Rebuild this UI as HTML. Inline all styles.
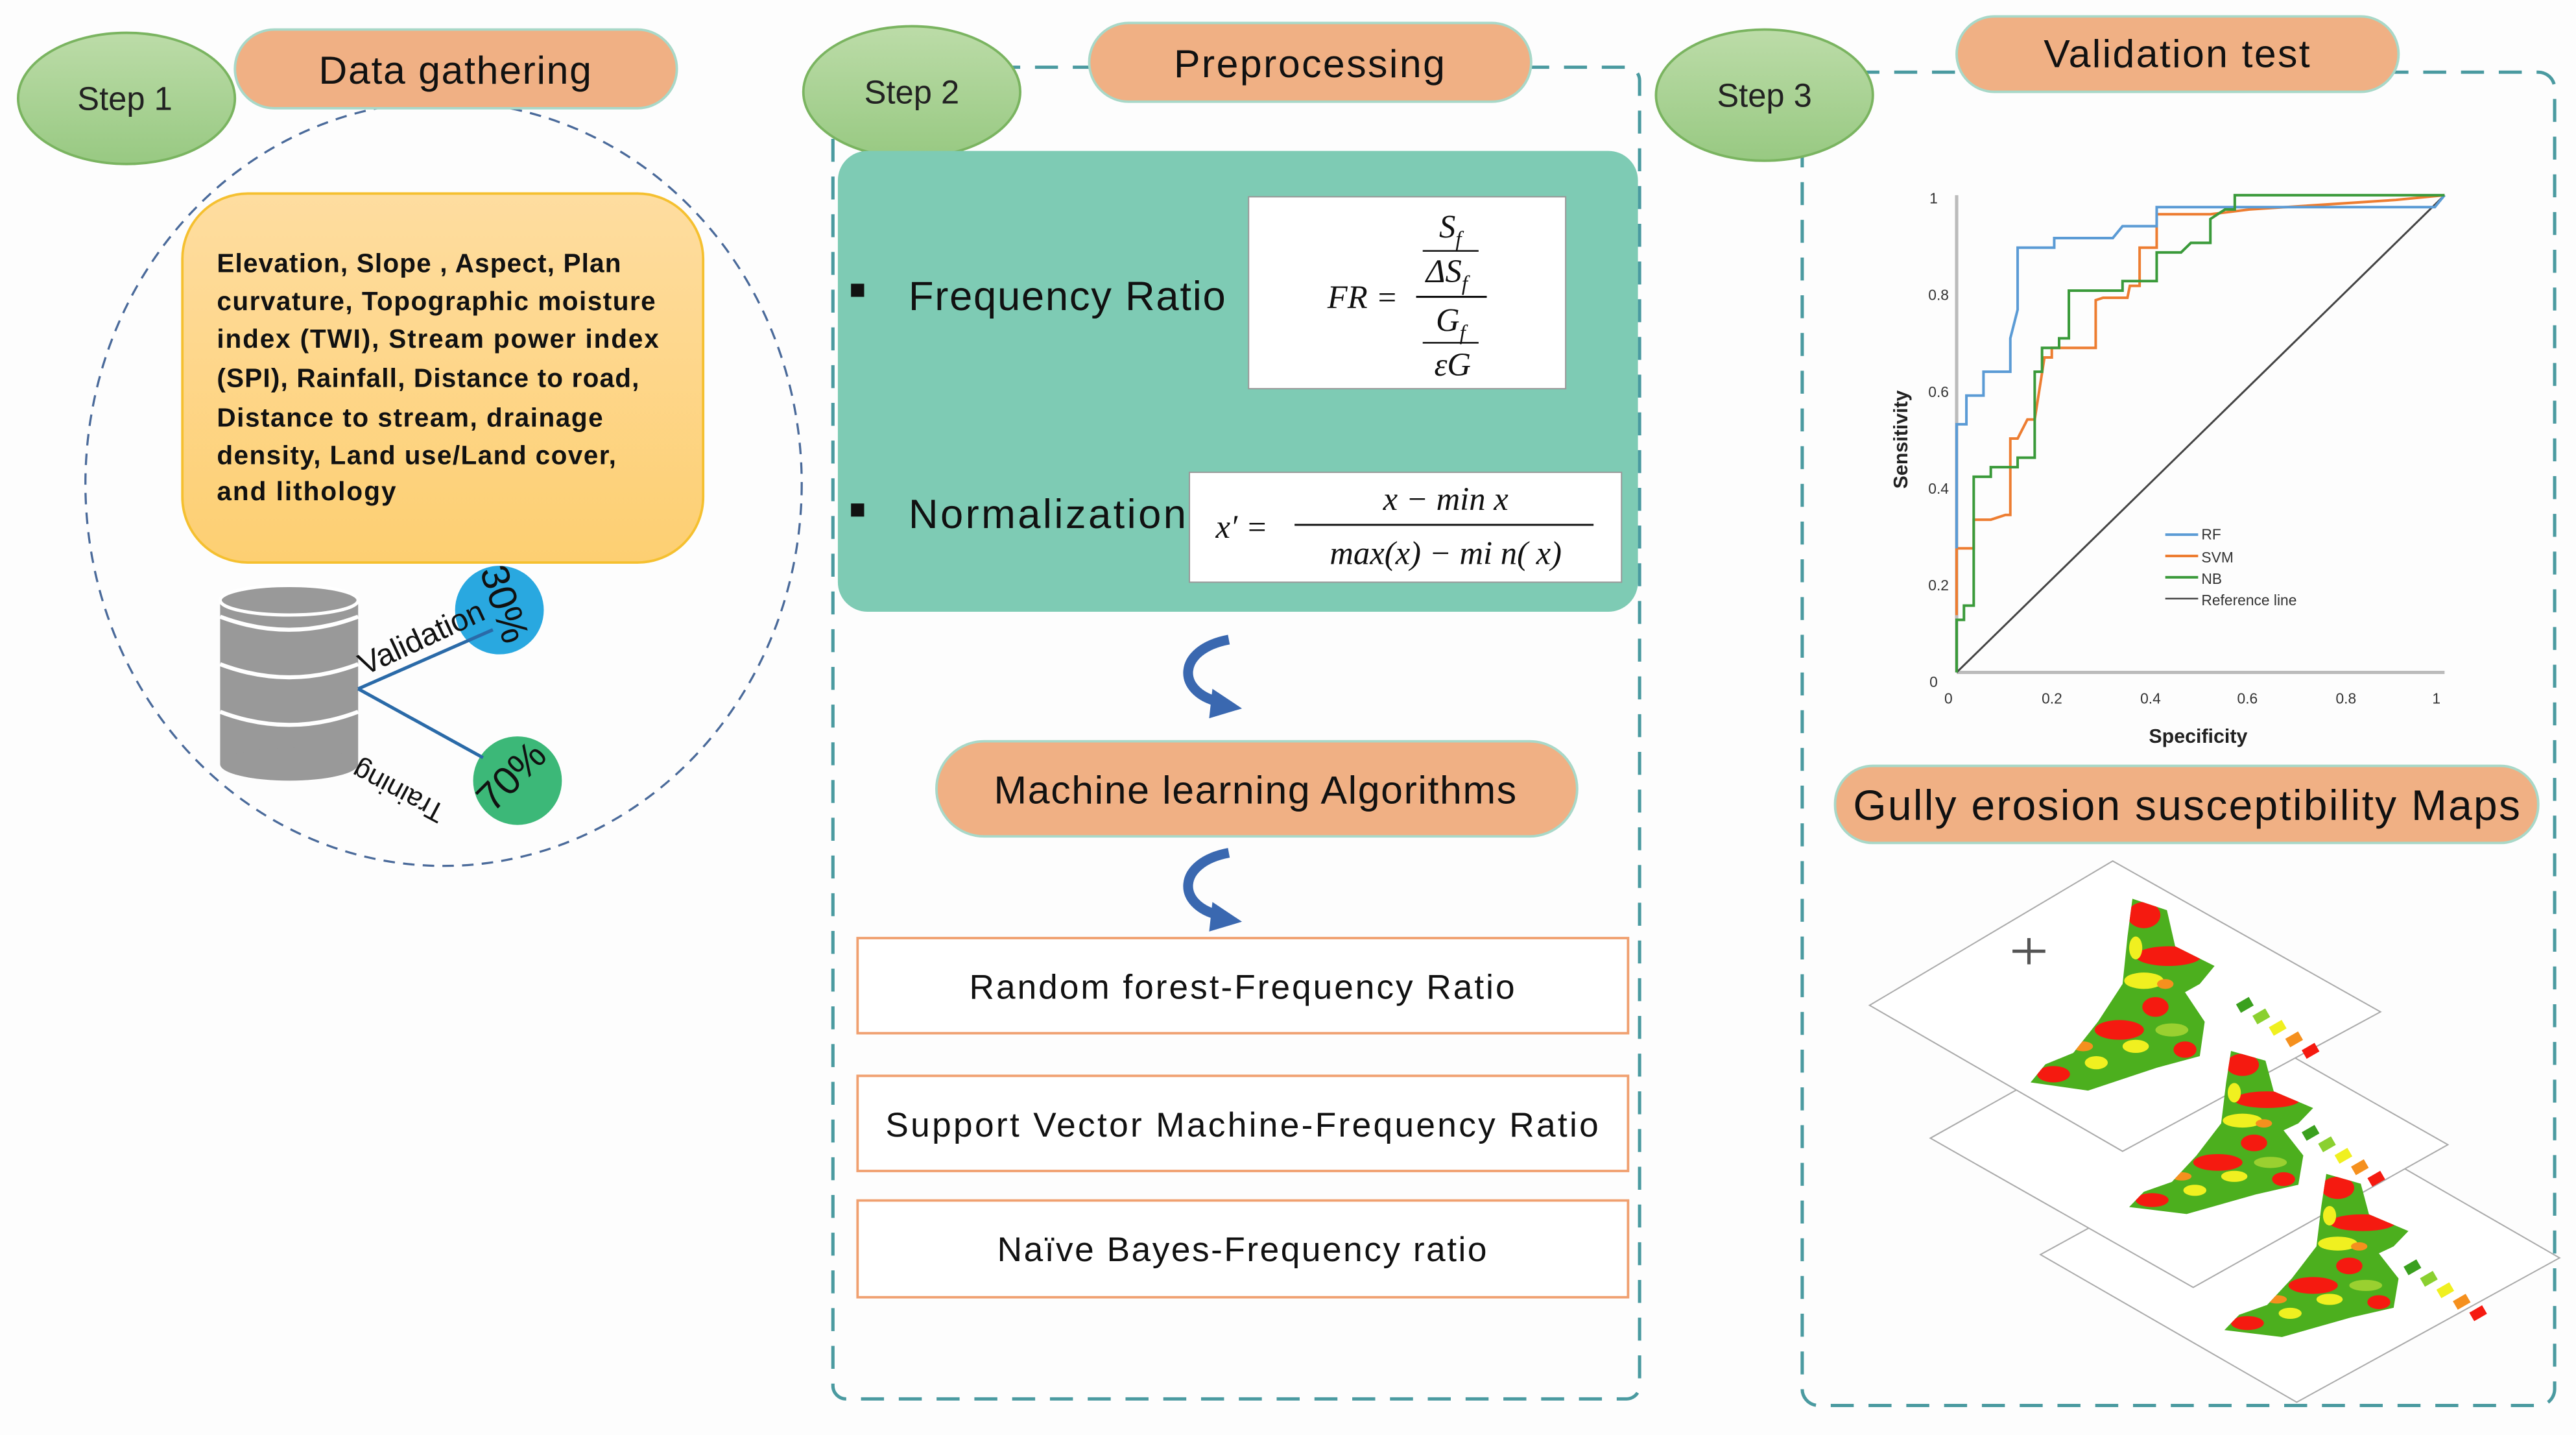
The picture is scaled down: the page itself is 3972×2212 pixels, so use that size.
<!DOCTYPE html>
<html><head><meta charset="utf-8"><style>
html,body{margin:0;padding:0;background:#fdfdfd;}
svg{display:block;}
text{font-family:"Liberation Sans",sans-serif;}
.s{font-family:"Liberation Serif",serif;font-style:italic;}
</style></head><body>
<svg width="3972" height="2212" viewBox="0 0 1568 875" preserveAspectRatio="none" xmlns="http://www.w3.org/2000/svg">
<defs>
<linearGradient id="gr" x1="0" y1="0" x2="0" y2="1"><stop offset="0" stop-color="#bcdca8"/><stop offset="1" stop-color="#98c982"/></linearGradient>
<linearGradient id="yl" x1="0" y1="0" x2="0" y2="1"><stop offset="0" stop-color="#fedda0"/><stop offset="1" stop-color="#fdcf72"/></linearGradient>
<clipPath id="blob"><path d="M1298,548 L1319,555 L1324,577 L1348,589 L1339,600 L1330,605 L1342,623 L1339,644 L1313,651 L1271,665 L1236,660 L1245,649 L1262,642 L1277,623 L1292,600 L1295,571 Z"/></clipPath>
<g id="mapfill">
<path d="M1298,548 L1319,555 L1324,577 L1348,589 L1339,600 L1330,605 L1342,623 L1339,644 L1313,651 L1271,665 L1236,660 L1245,649 L1262,642 L1277,623 L1292,600 L1295,571 Z" fill="#4caf1e"/>
<g clip-path="url(#blob)">
<ellipse cx="1305" cy="558" rx="10" ry="8" fill="#f51a10"/>
<ellipse cx="1320" cy="583" rx="20" ry="6" fill="#f51a10"/>
<ellipse cx="1305" cy="598" rx="12" ry="5" fill="#f0f020"/>
<ellipse cx="1312" cy="614" rx="8" ry="6" fill="#f51a10"/>
<ellipse cx="1322" cy="628" rx="10" ry="4" fill="#9ad030"/>
<ellipse cx="1290" cy="628" rx="15" ry="6" fill="#f51a10"/>
<ellipse cx="1300" cy="638" rx="8" ry="4" fill="#f0f020"/>
<ellipse cx="1250" cy="655" rx="10" ry="5" fill="#f51a10"/>
<ellipse cx="1276" cy="648" rx="7" ry="4" fill="#f0f020"/>
<ellipse cx="1330" cy="640" rx="7" ry="5" fill="#f51a10"/>
<ellipse cx="1300" cy="578" rx="4" ry="7" fill="#f0f020"/>
<ellipse cx="1268" cy="638" rx="6" ry="3" fill="#f5901e"/>
<ellipse cx="1318" cy="600" rx="5" ry="3" fill="#f5901e"/>
</g>
</g>
</defs>
<rect width="1568" height="875" fill="#fdfdfd"/>

<!-- STEP 1 -->
<ellipse cx="270" cy="295" rx="218" ry="233" fill="none" stroke="#4a6a9a" stroke-width="1.3" stroke-dasharray="7,5"/>
<ellipse cx="77" cy="60" rx="66" ry="40" fill="url(#gr)" stroke="#7ab460" stroke-width="1.5"/>
<text x="76" y="67" font-size="20" text-anchor="middle" fill="#222">Step 1</text>
<rect x="143" y="18" width="269" height="48" rx="24" fill="#f0b084" stroke="#a8d8c8" stroke-width="1.5"/>
<text x="277" y="51" font-size="24" text-anchor="middle" fill="#111" textLength="166">Data gathering</text>
<rect x="111" y="118" width="317" height="225" rx="40" fill="url(#yl)" stroke="#f5c030" stroke-width="1.5"/>
<g font-size="16" font-weight="bold" fill="#111">
<text x="132" y="166" textLength="246">Elevation, Slope , Aspect, Plan</text>
<text x="132" y="189" textLength="267">curvature, Topographic moisture</text>
<text x="132" y="212" textLength="269">index (TWI), Stream power index</text>
<text x="132" y="236" textLength="257">(SPI), Rainfall, Distance to road,</text>
<text x="132" y="260" textLength="235">Distance to stream, drainage</text>
<text x="132" y="283" textLength="243">density, Land use/Land cover,</text>
<text x="132" y="305" textLength="109">and lithology</text>
</g>
<!-- database -->
<rect x="134" y="366" width="84" height="100" fill="#999"/>
<ellipse cx="176" cy="466" rx="42" ry="10" fill="#999"/>
<ellipse cx="176" cy="366" rx="42" ry="9" fill="#999" stroke="#fff" stroke-width="2"/>
<path d="M134,376 Q176,392 218,376" fill="none" stroke="#fff" stroke-width="2.5"/>
<path d="M134,405 Q176,421 218,405" fill="none" stroke="#fff" stroke-width="2.5"/>
<path d="M134,434 Q176,450 218,434" fill="none" stroke="#fff" stroke-width="2.5"/>
<circle cx="304" cy="372" r="27" fill="#29a8e0"/>
<circle cx="315" cy="476" r="27" fill="#3cb878"/>
<line x1="218" y1="420" x2="300" y2="384" stroke="#2a6aa8" stroke-width="2"/>
<line x1="218" y1="420" x2="294" y2="462" stroke="#2a6aa8" stroke-width="2"/>
<text transform="translate(222,412) rotate(-25)" font-size="19" fill="#111">Validation</text>
<text transform="translate(292,348) rotate(72)" font-size="24" fill="#111">30%</text>
<text transform="translate(272,492) rotate(-152)" font-size="17" fill="#111">Training</text>
<text transform="translate(300,496) rotate(-45)" font-size="24" fill="#111">70%</text>

<!-- STEP 2 -->
<rect x="507" y="41" width="491" height="812" rx="8" fill="none" stroke="#4a9aa0" stroke-width="2" stroke-dasharray="14,9"/>
<ellipse cx="555" cy="56" rx="66" ry="40" fill="url(#gr)" stroke="#7ab460" stroke-width="1.5"/>
<text x="555" y="63" font-size="20" text-anchor="middle" fill="#222">Step 2</text>
<rect x="663" y="14" width="269" height="48" rx="24" fill="#f0b084" stroke="#a8d8c8" stroke-width="1.5"/>
<text x="797" y="47" font-size="24" text-anchor="middle" fill="#111" textLength="165">Preprocessing</text>
<rect x="510" y="92" width="487" height="281" rx="18" fill="#7ecbb4"/>
<rect x="518" y="173" width="8" height="8" fill="#111"/>
<rect x="518" y="307" width="8" height="8" fill="#111"/>
<text x="553" y="189" font-size="25" fill="#111" textLength="193">Frequency Ratio</text>
<text x="553" y="322" font-size="25" fill="#111" textLength="169">Normalization</text>
<rect x="760" y="120" width="193" height="117" fill="#fff" stroke="#999" stroke-width="0.8"/>
<g class="s" font-size="20" fill="#111">
<text x="808" y="188" class="s">FR =</text>
<text x="876" y="145" class="s">S<tspan font-size="13" dy="5">f</tspan></text>
<line x1="866" y1="153" x2="900" y2="153" stroke="#111" stroke-width="1"/>
<text x="868" y="172" class="s">ΔS<tspan font-size="13" dy="5">f</tspan></text>
<line x1="862" y1="181" x2="905" y2="181" stroke="#111" stroke-width="1.2"/>
<text x="874" y="202" class="s">G<tspan font-size="13" dy="5">f</tspan></text>
<line x1="866" y1="209" x2="900" y2="209" stroke="#111" stroke-width="1"/>
<text x="873" y="229" class="s">εG</text>
</g>
<rect x="724" y="288" width="263" height="67" fill="#fff" stroke="#999" stroke-width="0.8"/>
<g font-size="20" fill="#111">
<text x="740" y="328" class="s">x′ =</text>
<text x="880" y="311" class="s" text-anchor="middle">x − min x</text>
<line x1="788" y1="320" x2="970" y2="320" stroke="#111" stroke-width="1.2"/>
<text x="880" y="344" class="s" text-anchor="middle">max(x) − mi n( x)</text>
</g>
<!-- curved arrows -->
<path d="M748,390 C716,396 716,422 742,428" fill="none" stroke="#3a68b0" stroke-width="6"/>
<polygon points="738,420 756,432 736,438" fill="#3a68b0"/>
<path d="M748,520 C716,526 716,552 742,558" fill="none" stroke="#3a68b0" stroke-width="6"/>
<polygon points="738,550 756,562 736,568" fill="#3a68b0"/>
<rect x="570" y="452" width="390" height="58" rx="29" fill="#f0b084" stroke="#a8d8c8" stroke-width="1.5"/>
<text x="764" y="490" font-size="24" text-anchor="middle" fill="#111" textLength="318">Machine learning Algorithms</text>
<g fill="#fff" stroke="#f0a070" stroke-width="1.5">
<rect x="522" y="572" width="469" height="58"/>
<rect x="522" y="656" width="469" height="58"/>
<rect x="522" y="732" width="469" height="59"/>
</g>
<g font-size="21" fill="#111" text-anchor="middle">
<text x="756" y="609" textLength="332">Random forest-Frequency  Ratio</text>
<text x="756" y="693" textLength="434">Support Vector Machine-Frequency  Ratio</text>
<text x="756" y="769" textLength="298">Naïve Bayes-Frequency  ratio</text>
</g>

<!-- STEP 3 -->
<rect x="1097" y="44" width="458" height="813" rx="10" fill="none" stroke="#4a9aa0" stroke-width="2" stroke-dasharray="14,9"/>
<ellipse cx="1074" cy="58" rx="66" ry="40" fill="url(#gr)" stroke="#7ab460" stroke-width="1.5"/>
<text x="1074" y="65" font-size="20" text-anchor="middle" fill="#222">Step 3</text>
<rect x="1191" y="10" width="269" height="46" rx="23" fill="#f0b084" stroke="#a8d8c8" stroke-width="1.5"/>
<text x="1325" y="41" font-size="24" text-anchor="middle" fill="#111" textLength="162">Validation test</text>

<!-- ROC chart -->
<line x1="1191" y1="119" x2="1191" y2="410" stroke="#bbb" stroke-width="2"/>
<line x1="1191" y1="410" x2="1488" y2="410" stroke="#bbb" stroke-width="2"/>
<g transform="translate(1191,410) scale(297,-291)" fill="none">
<line x1="0" y1="0" x2="1" y2="1" stroke="#444" vector-effect="non-scaling-stroke" stroke-width="3"/>
<polyline vector-effect="non-scaling-stroke" stroke-width="4" stroke="#ed7d31" points="0,0.12 0,0.26 0.035,0.26 0.035,0.32 0.07,0.32 0.1,0.33 0.11,0.33 0.11,0.49 0.125,0.49 0.145,0.53 0.16,0.53 0.18,0.66 0.195,0.66 0.195,0.68 0.285,0.68 0.285,0.78 0.3,0.785 0.35,0.785 0.355,0.81 0.375,0.81 0.375,0.89 0.41,0.89 0.41,0.96 0.52,0.96 0.6,0.97 0.9,0.99 1,1"/>
<polyline vector-effect="non-scaling-stroke" stroke-width="4" stroke="#5b9bd5" points="0,0.26 0,0.52 0.02,0.52 0.02,0.58 0.055,0.58 0.055,0.63 0.11,0.63 0.11,0.7 0.125,0.76 0.125,0.89 0.2,0.89 0.2,0.91 0.32,0.91 0.34,0.935 0.41,0.935 0.41,0.975 0.98,0.975 1,1"/>
<polyline vector-effect="non-scaling-stroke" stroke-width="4" stroke="#3a9a3a" points="0,0 0,0.11 0.015,0.11 0.015,0.14 0.035,0.14 0.035,0.41 0.07,0.41 0.07,0.43 0.125,0.43 0.125,0.45 0.16,0.45 0.16,0.63 0.175,0.63 0.175,0.68 0.21,0.68 0.21,0.7 0.23,0.7 0.23,0.8 0.34,0.8 0.34,0.82 0.41,0.82 0.41,0.88 0.46,0.88 0.48,0.9 0.52,0.9 0.52,0.95 0.55,0.97 0.57,0.97 0.57,1 1,1"/>
</g>
<g font-size="9" fill="#333" text-anchor="middle">
<text x="1177" y="124">1</text><text x="1180" y="183">0.8</text><text x="1180" y="242">0.6</text><text x="1180" y="301">0.4</text><text x="1180" y="360">0.2</text><text x="1177" y="419">0</text>
<text x="1186" y="429">0</text><text x="1249" y="429">0.2</text><text x="1309" y="429">0.4</text><text x="1368" y="429">0.6</text><text x="1428" y="429">0.8</text><text x="1483" y="429">1</text>
</g>
<text x="1338" y="453" font-size="12" font-weight="bold" text-anchor="middle" fill="#222">Specificity</text>
<text transform="translate(1161,268) rotate(-90)" font-size="12" font-weight="bold" text-anchor="middle" fill="#222">Sensitivity</text>
<g stroke-width="1.6">
<line x1="1318" y1="326" x2="1338" y2="326" stroke="#5b9bd5"/>
<line x1="1318" y1="339" x2="1338" y2="339" stroke="#ed7d31"/>
<line x1="1318" y1="352" x2="1338" y2="352" stroke="#3a9a3a"/>
<line x1="1318" y1="365" x2="1338" y2="365" stroke="#444" stroke-width="1"/>
</g>
<g font-size="9" fill="#333">
<text x="1340" y="329">RF</text><text x="1340" y="343">SVM</text><text x="1340" y="356">NB</text><text x="1340" y="369">Reference line</text>
</g>

<rect x="1117" y="467" width="428" height="47" rx="23" fill="#f0b084" stroke="#a8d8c8" stroke-width="1.5"/>
<text x="1331" y="500" font-size="26" text-anchor="middle" fill="#111" textLength="406">Gully erosion susceptibility Maps</text>

<!-- maps -->
<g stroke="#aaa" stroke-width="0.8" fill="#fff">
<polygon points="1242,765 1402,677 1558,767 1398,855"/>
<polygon points="1175,694 1330,607 1490,698 1335,785"/>
<polygon points="1138,613 1286,525 1449,617 1292,702"/>
</g>
<use href="#mapfill"/>
<line x1="1225" y1="580" x2="1245" y2="580" stroke="#555" stroke-width="2"/>
<line x1="1235" y1="572" x2="1235" y2="588" stroke="#555" stroke-width="2"/>
<use href="#mapfill" transform="translate(60,85) translate(1290,600) scale(1,0.85) translate(-1290,-600)"/>
<use href="#mapfill" transform="translate(118,160) translate(1290,600) scale(1,0.85) translate(-1290,-600)"/>
<g>
<rect x="1362" y="610" width="9" height="6" fill="#3aa01e" transform="rotate(-30 1366 613)"/>
<rect x="1372" y="617" width="9" height="6" fill="#8ad030" transform="rotate(-30 1376 620)"/>
<rect x="1382" y="624" width="9" height="6" fill="#f0f020" transform="rotate(-30 1386 627)"/>
<rect x="1392" y="631" width="9" height="6" fill="#f5901e" transform="rotate(-30 1396 634)"/>
<rect x="1402" y="638" width="9" height="6" fill="#f51a10" transform="rotate(-30 1406 641)"/>
<rect x="1402" y="688" width="9" height="6" fill="#3aa01e" transform="rotate(-30 1406 691)"/>
<rect x="1412" y="695" width="9" height="6" fill="#8ad030" transform="rotate(-30 1416 698)"/>
<rect x="1422" y="702" width="9" height="6" fill="#f0f020" transform="rotate(-30 1426 705)"/>
<rect x="1432" y="709" width="9" height="6" fill="#f5901e" transform="rotate(-30 1436 712)"/>
<rect x="1442" y="716" width="9" height="6" fill="#f51a10" transform="rotate(-30 1446 719)"/>
<rect x="1464" y="770" width="9" height="6" fill="#3aa01e" transform="rotate(-30 1468 773)"/>
<rect x="1474" y="777" width="9" height="6" fill="#8ad030" transform="rotate(-30 1478 780)"/>
<rect x="1484" y="784" width="9" height="6" fill="#f0f020" transform="rotate(-30 1488 787)"/>
<rect x="1494" y="791" width="9" height="6" fill="#f5901e" transform="rotate(-30 1498 794)"/>
<rect x="1504" y="798" width="9" height="6" fill="#f51a10" transform="rotate(-30 1508 801)"/>
</g>
</svg>
</body></html>
